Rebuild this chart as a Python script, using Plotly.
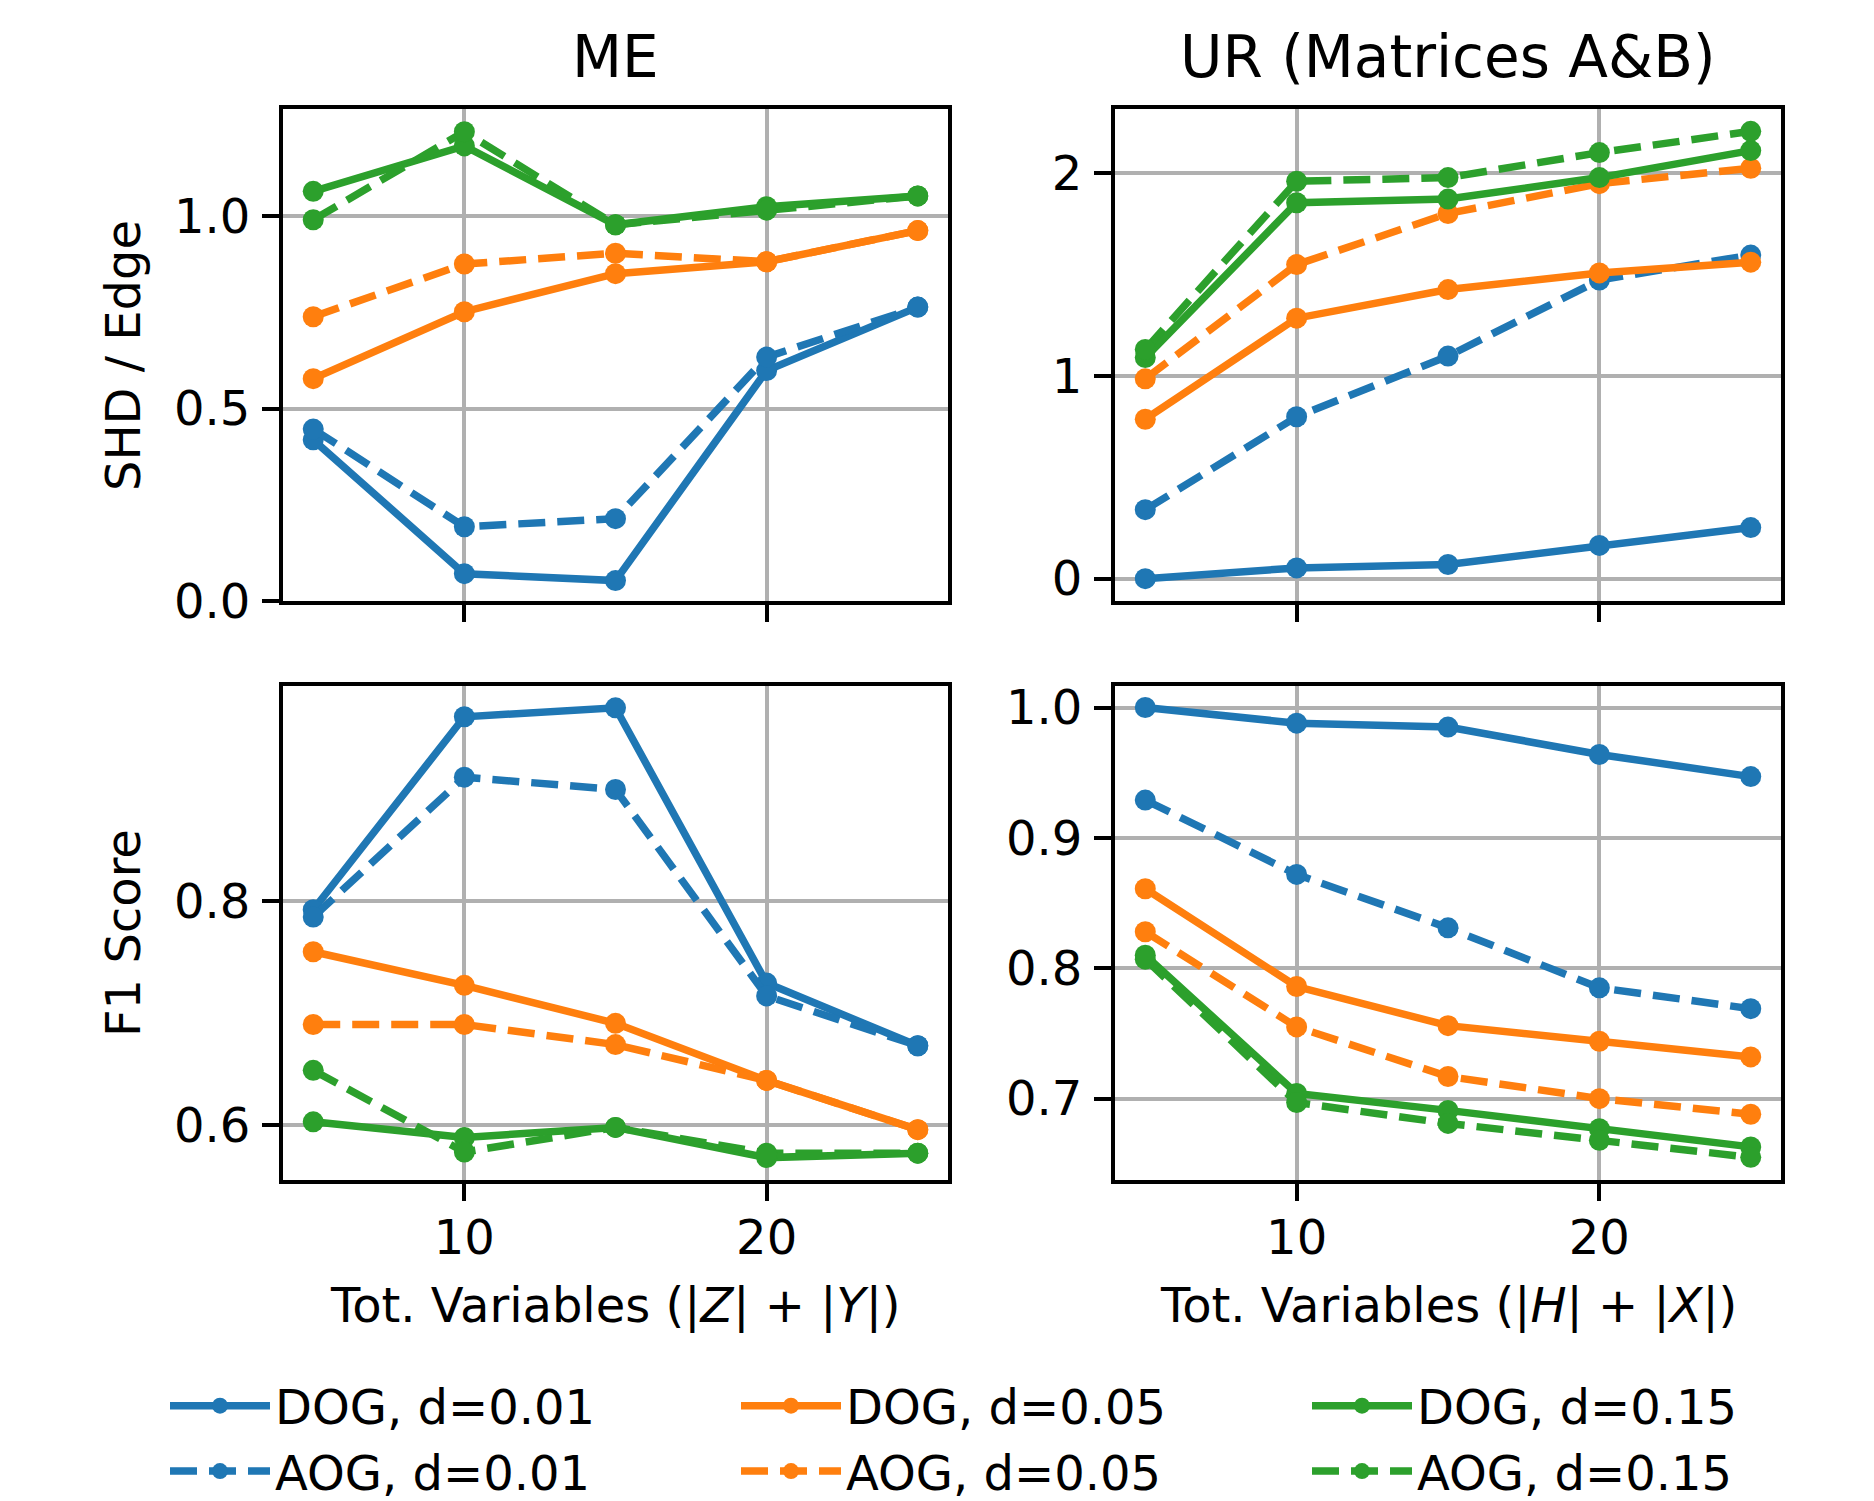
import plotly.graph_objects as go

W, H = 1874, 1501

x_vals = [5, 10, 15, 20, 25]

series_names = ["DOG, d=0.01", "AOG, d=0.01", "DOG, d=0.05", "AOG, d=0.05", "DOG, d=0.15", "AOG, d=0.15"]
series_colors = ["#1f77b4", "#1f77b4", "#ff7f0e", "#ff7f0e", "#2ca02c", "#2ca02c"]
series_dash = ["solid", "27px,12px", "solid", "27px,12px", "solid", "27px,12px"]
legend_ranks = [1, 4, 2, 5, 3, 6]

# ME - SHD / Edge
me_shd = [
    [0.419, 0.071, 0.053, 0.599, 0.764],
    [0.447, 0.193, 0.214, 0.634, 0.764],
    [0.578, 0.752, 0.851, 0.882, 0.963],
    [0.739, 0.876, 0.904, 0.882, 0.963],
    [1.065, 1.183, 0.978, 1.025, 1.053],
    [0.991, 1.220, 0.978, 1.016, 1.053],
]
# UR - SHD / Edge
ur_shd = [
    [0.000, 0.053, 0.070, 0.164, 0.252],
    [0.340, 0.798, 1.097, 1.472, 1.595],
    [0.786, 1.284, 1.425, 1.507, 1.560],
    [0.985, 1.548, 1.800, 1.947, 2.023],
    [1.090, 1.853, 1.871, 1.977, 2.110],
    [1.130, 1.959, 1.977, 2.100, 2.205],
]
# ME - F1
me_f1 = [
    [0.7925, 0.965, 0.973, 0.727, 0.671],
    [0.786, 0.911, 0.900, 0.7155, 0.671],
    [0.755, 0.725, 0.691, 0.640, 0.596],
    [0.690, 0.690, 0.672, 0.640, 0.596],
    [0.603, 0.589, 0.598, 0.571, 0.575],
    [0.649, 0.576, 0.598, 0.575, 0.575],
]
# UR - F1
ur_f1 = [
    [1.000, 0.988, 0.985, 0.964, 0.947],
    [0.929, 0.872, 0.831, 0.785, 0.769],
    [0.861, 0.786, 0.756, 0.744, 0.732],
    [0.828, 0.755, 0.717, 0.700, 0.688],
    [0.810, 0.704, 0.691, 0.677, 0.663],
    [0.807, 0.697, 0.681, 0.668, 0.655],
]

col_titles = ["ME", "UR (Matrices A&amp;B)"]
row_titles = ["SHD / Edge", "F1 Score"]
x_titles = ["Tot. Variables (|<i>Z</i>| + |<i>Y</i>|)", "Tot. Variables (|<i>H</i>| + |<i>X</i>|)"]
x_ticks = [10, 20]
y_ticks = {
    1: ([0.0, 0.5, 1.0], ["0.0", "0.5", "1.0"]),
    2: ([0, 1, 2], ["0", "1", "2"]),
    3: ([0.6, 0.8], ["0.6", "0.8"]),
    4: ([0.7, 0.8, 0.9, 1.0], ["0.7", "0.8", "0.9", "1.0"]),
}
y_ranges = {1: [0.0, 1.279], 2: [-0.11, 2.315], 3: [0.551, 0.9925], 4: [0.6376, 1.0165]}

panels = [(1, me_shd), (2, ur_shd), (3, me_f1), (4, ur_f1)]

FONT = "DejaVu Sans"
fig = go.Figure()

for idx, data in panels:
    xa = "x" if idx == 1 else f"x{idx}"
    ya = "y" if idx == 1 else f"y{idx}"
    for s in range(6):
        fig.add_trace(go.Scatter(
            x=x_vals, y=data[s], xaxis=xa, yaxis=ya,
            mode="lines+markers", name=series_names[s],
            line=dict(color=series_colors[s], width=7.5, dash=series_dash[s]),
            marker=dict(color=series_colors[s], size=21),
            showlegend=(idx == 1), legendrank=legend_ranks[s],
        ))

def px2x(p):
    return p / W

def px2y(p):
    return 1 - p / H

xdom = {1: [283, 948], 2: [1115, 1781], 3: [283, 948], 4: [1115, 1781]}
ydom = {1: [109, 601], 2: [109, 601], 3: [686, 1180], 4: [686, 1180]}

layout = dict(
    width=W, height=H,
    margin=dict(l=0, r=0, t=0, b=0, autoexpand=False),
    paper_bgcolor="white", plot_bgcolor="white",
    font=dict(family=FONT, size=48, color="black"),
    showlegend=True,
    legend=dict(
        orientation="h", x=px2x(165), y=px2y(1368), xanchor="left", yanchor="top",
        entrywidth=456, entrywidthmode="pixels", itemwidth=100,
        font=dict(size=48, family=FONT), traceorder="normal",
        bgcolor="rgba(0,0,0,0)",
    ),
)

for idx in range(1, 5):
    xk = "xaxis" if idx == 1 else f"xaxis{idx}"
    yk = "yaxis" if idx == 1 else f"yaxis{idx}"
    xa_anchor = "y" if idx == 1 else f"y{idx}"
    ya_anchor = "x" if idx == 1 else f"x{idx}"
    layout[xk] = dict(
        domain=[px2x(xdom[idx][0]), px2x(xdom[idx][1])],
        anchor=xa_anchor, range=[4, 26],
        tickmode="array", tickvals=x_ticks, ticktext=[str(t) for t in x_ticks],
        showticklabels=(idx >= 3),
        ticks="outside", ticklen=17, tickwidth=4, tickcolor="black",
        showline=True, linewidth=4, linecolor="black", mirror=True,
        showgrid=True, gridcolor="#b0b0b0", gridwidth=4, zeroline=False,
        tickfont=dict(size=48, family=FONT), ticklabelstandoff=-5,
    )
    tv, tt = y_ticks[idx]
    layout[yk] = dict(
        domain=[px2y(ydom[idx][1]), px2y(ydom[idx][0])],
        anchor=ya_anchor, range=y_ranges[idx],
        tickmode="array", tickvals=tv, ticktext=tt,
        ticks="outside", ticklen=17, tickwidth=4, tickcolor="black",
        showline=True, linewidth=4, linecolor="black", mirror=True,
        showgrid=True, gridcolor="#b0b0b0", gridwidth=4, zeroline=False,
        tickfont=dict(size=48, family=FONT), ticklabelstandoff=2,
    )

annotations = []
# column titles
for c, t in enumerate(col_titles):
    xc = (xdom[1 + c][0] + xdom[1 + c][1]) / 2
    annotations.append(dict(text=t, x=px2x(xc), y=px2y(57), xref="paper", yref="paper",
                            showarrow=False, xanchor="center", yanchor="middle",
                            font=dict(size=58, family=FONT)))
# row titles
for r, t in enumerate(row_titles):
    yc = (ydom[1 + 2 * r][0] + ydom[1 + 2 * r][1]) / 2
    annotations.append(dict(text=t, x=px2x(123), y=px2y(yc), xref="paper", yref="paper",
                            showarrow=False, xanchor="center", yanchor="middle", textangle=-90,
                            font=dict(size=48, family=FONT)))
# x titles
for c, t in enumerate(x_titles):
    xc = (xdom[3 + c][0] + xdom[3 + c][1]) / 2
    annotations.append(dict(text=t, x=px2x(xc), y=px2y(1305), xref="paper", yref="paper",
                            showarrow=False, xanchor="center", yanchor="middle",
                            font=dict(size=48, family=FONT)))
layout["annotations"] = annotations

fig.update_layout(**layout)
fig.write_html("out.html", config={"displayModeBar": False},
               post_script="document.body.style.margin='0px';document.body.style.overflow='hidden';")
